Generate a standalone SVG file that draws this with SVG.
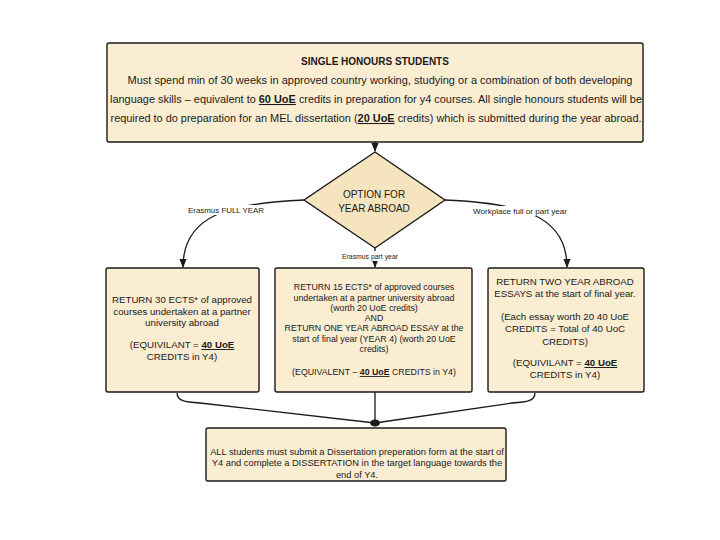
<svg xmlns="http://www.w3.org/2000/svg" width="720" height="540" viewBox="0 0 720 540">
<defs>
<style>
.box{fill:#FAEDD2;stroke:#1a1a1a;stroke-width:1.4}
.dia{fill:#F5E4BE;stroke:#1a1a1a;stroke-width:1.4}
.t{font-family:"Liberation Sans",Arial,sans-serif;fill:#1a1a1a;text-anchor:middle}
.lbl{font-family:"Liberation Sans",Arial,sans-serif;fill:#1a1a1a;text-anchor:middle;font-size:7.5px}
.lb{fill:#ffffff}
.b{font-weight:bold}
.u{text-decoration:underline;font-weight:bold}
.con{fill:none;stroke:#1a1a1a;stroke-width:1.3}
</style>
<marker id="ah" viewBox="0 0 10 10" refX="9" refY="5" markerWidth="7" markerHeight="7" orient="auto">
<path d="M0,1 L10,5 L0,9 Z" fill="#1a1a1a"/>
</marker>
</defs>
<rect width="720" height="540" fill="#ffffff"/>

<g id="connectors">
<path class="con" d="M375,142 L375,151" marker-end="url(#ah)"/>
<path class="con" d="M304,200 C232,203 183,214 183,267" marker-end="url(#ah)"/>
<path class="con" d="M445,200 C518,203 567,214 567,267" marker-end="url(#ah)"/>
<path class="con" d="M375,248 L375,267" marker-end="url(#ah)"/>
<path class="con" d="M177,393 C177,401 185,402 200,403 L375,423"/>
<path class="con" d="M535,393 C535,401 527,402 512,403 L375,423"/>
<path class="con" d="M375,392 L375,423"/>
<ellipse cx="375" cy="423" rx="5" ry="3.5" fill="#1a1a1a"/>
<rect class="lb" x="186" y="205" width="80" height="10"/>
<text class="lbl" x="226" y="213" textLength="76" lengthAdjust="spacingAndGlyphs">Erasmus FULL YEAR</text>
<rect class="lb" x="472" y="206" width="97" height="10"/>
<text class="lbl" x="520" y="214" textLength="94" lengthAdjust="spacingAndGlyphs">Workplace full or part year</text>
<rect class="lb" x="341" y="251" width="58" height="10"/>
<text class="lbl" x="370" y="259" textLength="56" lengthAdjust="spacingAndGlyphs">Erasmus part year</text>
</g>

<g id="top">
<rect class="box" x="107" y="43" width="536" height="99" rx="2"/>
<text class="t b" x="375" y="65" font-size="10">SINGLE HONOURS STUDENTS</text>
<text class="t" x="380" y="84" font-size="10.5" textLength="505" lengthAdjust="spacingAndGlyphs">Must spend min of 30 weeks in approved country working, studying or a combination of both developing</text>
<text class="t" x="376" y="103" font-size="10.5" textLength="532" lengthAdjust="spacingAndGlyphs">language skills – equivalent to <tspan class="u">60 UoE</tspan> credits in preparation for y4 courses. All single honours students will be</text>
<text class="t" x="376" y="122" font-size="10.5" textLength="531" lengthAdjust="spacingAndGlyphs">required to do preparation for an MEL dissertation (<tspan class="u">20 UoE</tspan> credits) which is submitted during the year abroad.</text>
</g>

<g id="decision">
<polygon class="dia" points="375,152 445,200 375,248 304,200"/>
<text class="t" x="374" y="198" font-size="10">OPTION FOR</text>
<text class="t" x="374" y="212" font-size="10">YEAR ABROAD</text>
</g>

<g id="full-year">
<rect class="box" x="106" y="268" width="153" height="124" rx="2"/>
<text class="t" x="182" y="303" font-size="9.7">RETURN 30 ECTS* of approved</text>
<text class="t" x="182" y="315" font-size="9.7">courses undertaken at a partner</text>
<text class="t" x="182" y="326" font-size="9.7">university abroad</text>
<text class="t" x="182" y="348" font-size="9.7">(EQUIVILANT = <tspan class="u">40 UoE</tspan></text>
<text class="t" x="182" y="360" font-size="9.7">CREDITS in Y4)</text>
</g>

<g id="part-year">
<rect class="box" x="275" y="268" width="197" height="124" rx="2"/>
<text class="t" x="374" y="290" font-size="8.8">RETURN 15 ECTS* of approved courses</text>
<text class="t" x="374" y="301" font-size="8.8">undertaken at a partner university abroad</text>
<text class="t" x="374" y="311" font-size="8.8">(worth 20 UoE credits)</text>
<text class="t" x="374" y="321" font-size="8.8">AND</text>
<text class="t" x="374" y="331" font-size="8.8">RETURN ONE YEAR ABROAD ESSAY at the</text>
<text class="t" x="374" y="342" font-size="8.8">start of final year (YEAR 4)  (worth 20 UoE</text>
<text class="t" x="374" y="352" font-size="8.8">credits)</text>
<text class="t" x="374" y="375" font-size="8.8">(EQUIVALENT – <tspan class="u">40 UoE</tspan> CREDITS in Y4)</text>
</g>

<g id="workplace">
<rect class="box" x="488" y="268" width="156" height="124" rx="2"/>
<text class="t" x="565" y="285" font-size="9.7">RETURN TWO YEAR ABROAD</text>
<text class="t" x="565" y="297" font-size="9.7">ESSAYS at the start of final year.</text>
<text class="t" x="565" y="320" font-size="9.7">(Each essay worth 20 40 UoE</text>
<text class="t" x="565" y="332" font-size="9.7">CREDITS  = Total of 40 UoC</text>
<text class="t" x="565" y="345" font-size="9.7">CREDITS)</text>
<text class="t" x="565" y="366" font-size="9.7">(EQUIVILANT = <tspan class="u">40 UoE</tspan></text>
<text class="t" x="565" y="378" font-size="9.7">CREDITS in Y4)</text>
</g>

<g id="dissertation">
<rect class="box" x="206" y="428" width="300" height="53" rx="2"/>
<text class="t" x="357" y="455" font-size="9.3">ALL students must submit a Dissertation preperation form at the start of</text>
<text class="t" x="357" y="466" font-size="9.3">Y4 and complete a DISSERTATION in the target language towards the</text>
<text class="t" x="357" y="478" font-size="9.3">end of Y4.</text>
</g>
</svg>
